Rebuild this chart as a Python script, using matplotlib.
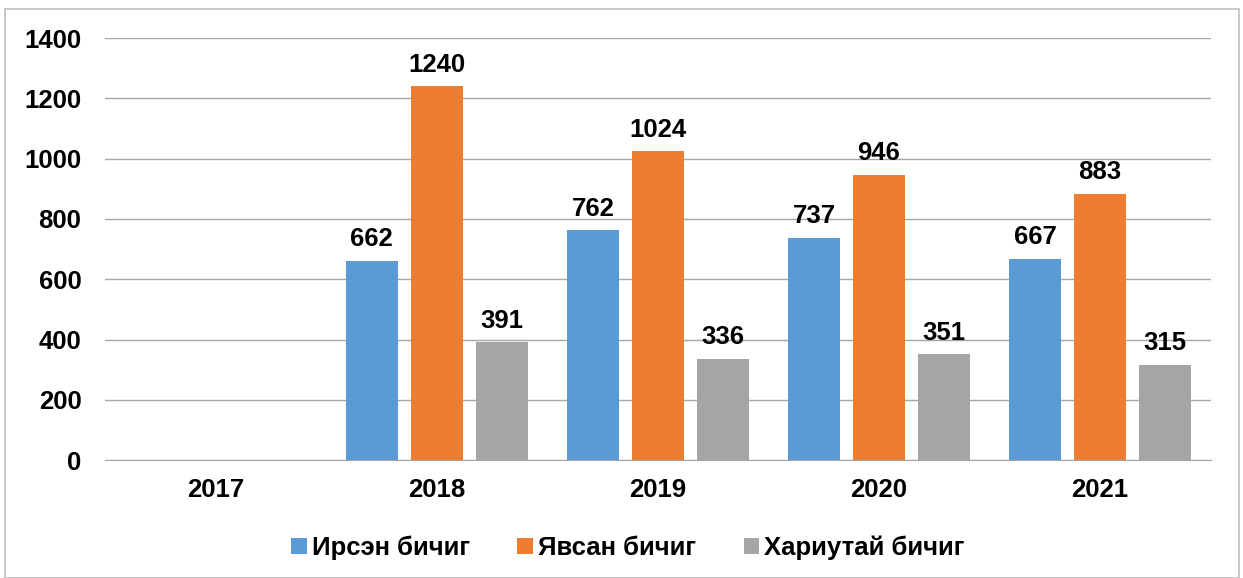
import matplotlib.pyplot as plt
import numpy as np
from matplotlib.patches import Rectangle

plt.rcParams['font.family'] = ['Liberation Sans', 'DejaVu Sans']

years = ['2017', '2018', '2019', '2020', '2021']
irsen = [np.nan, 662, 762, 737, 667]
yavsan = [np.nan, 1240, 1024, 946, 883]
hariutai = [np.nan, 391, 336, 351, 315]

series = [
    ('Ирсэн бичиг', irsen, '#5b9bd5'),
    ('Явсан бичиг', yavsan, '#ed7d31'),
    ('Хариутай бичиг', hariutai, '#a5a5a5'),
]

fig = plt.figure(figsize=(12.43, 5.78), dpi=100)
ax = fig.add_axes([0.0845, 0.204, 0.8895, 0.730])

x = np.arange(len(years))
width = 0.235
step = 0.294

for i, (name, vals, color) in enumerate(series):
    pos = x + (i - 1) * step
    ax.bar(pos, vals, width, color=color, label=name, zorder=3)
    for xp, v in zip(pos, vals):
        if not np.isnan(v):
            ax.annotate(f'{int(v)}', (xp, v), xytext=(0, 7), textcoords='offset points',
                        ha='center', va='bottom', fontsize=18.5, fontweight='bold', zorder=4)

ax.set_xlim(-0.5, len(years) - 0.5)
ax.set_ylim(0, 1400)
ax.set_yticks(range(0, 1401, 200))
ax.set_xticks(x)
ax.set_xticklabels(years)
ax.tick_params(axis='both', length=0, labelsize=18.5)
ax.tick_params(axis='x', pad=13)
ax.tick_params(axis='y', pad=17)
for lab in ax.get_xticklabels() + ax.get_yticklabels():
    lab.set_fontweight('bold')

ax.yaxis.grid(True, color='#a6a6a6', linewidth=1, zorder=0)
for s in ['top', 'right', 'left']:
    ax.spines[s].set_visible(False)
ax.spines['bottom'].set_color('#a6a6a6')
ax.spines['bottom'].set_zorder(5)

leg = fig.legend(loc='center', bbox_to_anchor=(628 / 1243, 1 - 548 / 578), ncol=3,
                 frameon=False, prop={'weight': 'bold', 'size': 18.5},
                 handlelength=0.6, handleheight=0.6, handletextpad=0.2,
                 columnspacing=1.85, borderpad=0)

fig.patches.append(Rectangle((0.004, 0.0), 0.993, 0.985, transform=fig.transFigure,
                             fill=False, edgecolor='#bfbfbf', linewidth=1.2))

fig.savefig('out.png', dpi=100)
